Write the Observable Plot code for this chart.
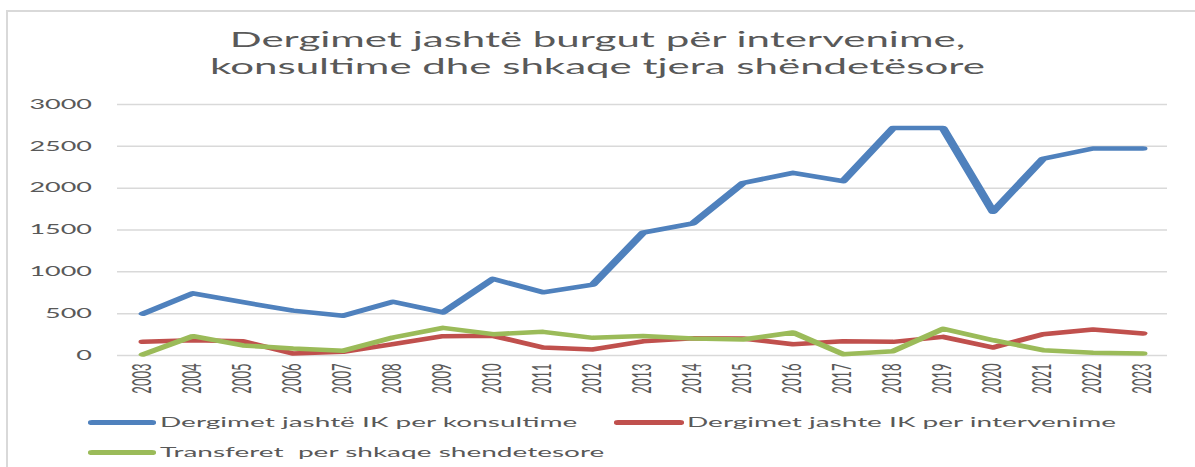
<!DOCTYPE html>
<html>
<head>
<meta charset="utf-8">
<script src="https://cdn.jsdelivr.net/npm/d3@7"></script>
<script src="https://cdn.jsdelivr.net/npm/@observablehq/plot@0.6"></script>
<style>
  html, body { margin: 0; padding: 0; background: #fff; }
  #frame { position: absolute; left: 6px; top: 10px; width: 1200px; height: 470px;
           border-left: 2px solid #d9d9d9; border-top: 2px solid #d9d9d9; box-sizing: border-box; }
  #stage { position: absolute; left: 0; top: 0; width: 597.5px; height: 467px;
           transform: scaleX(2); transform-origin: 0 0; font-family: Lato, "Open Sans", sans-serif; color: #595959; }
  #title { position: absolute; left: 0; top: 25px; width: 597.5px; text-align: center;
           font-size: 21px; line-height: 27px; }
  #chart { position: absolute; left: 0; top: 95px; }
  .leg { position: absolute; font-size: 14px; line-height: 20px; white-space: pre; }
  .leg .sw { display: inline-block; width: 34.5px; height: 4.5px; border-radius: 2px; vertical-align: middle; margin-right: 2px; position: relative; top: -1px; }
</style>
</head>
<body>
<div id="frame"></div>
<div id="stage">
  <div id="title">Dergimet jashtë burgut për intervenime,<br>konsultime dhe shkaqe tjera shëndetësore</div>
  <div id="chart"></div>
  <div id="legend"></div>
</div>
<script>
const years = ["2003","2004","2005","2006","2007","2008","2009","2010","2011","2012","2013","2014","2015","2016","2017","2018","2019","2020","2021","2022","2023"];
const konsultime = [500, 743, 637, 536, 476, 643, 516, 916, 755, 848, 1468, 1580, 2062, 2183, 2083, 2718, 2718, 1718, 2352, 2474, 2474];
const intervenime = [163, 183, 171, 24, 44, 135, 231, 235, 96, 72, 170, 207, 203, 135, 171, 163, 223, 96, 255, 311, 263];
const transferet = [12, 231, 120, 84, 56, 215, 331, 255, 283, 211, 233, 203, 191, 275, 16, 52, 319, 183, 64, 32, 24];
const seriesNames = ["Dergimet jashtë IK per konsultime", "Dergimet jashte IK per intervenime", "Transferet  per shkaqe shendetesore"];
const seriesColors = ["#4F81BD", "#C0504D", "#9BBB59"];
const yTicks = [0, 500, 1000, 1500, 2000, 2500, 3000];

const seriesValues = [konsultime, intervenime, transferet];
const data = seriesValues.flatMap((vals, s) => years.map((y, i) => ({year: y, value: vals[i], series: seriesNames[s]})));

const W = 597.5;
const chart = Plot.plot({
  width: W,
  height: 310,
  marginLeft: 58.5,
  marginRight: 14,
  marginTop: 9,
  marginBottom: 50,
  style: {fontFamily: "Lato, 'Open Sans', sans-serif", color: "#595959", background: "transparent", overflow: "visible"},
  x: {type: "point", domain: years, padding: 0.5, align: 0.5, label: null},
  y: {domain: [0, 3000], label: null},
  color: {domain: seriesNames, range: seriesColors},
  marks: [
    Plot.ruleY(yTicks, {stroke: "#d9d9d9", strokeWidth: 1.5}),
    Plot.axisY(yTicks, {tickSize: 0, tickPadding: 13, fontSize: 13.5, label: null, tickFormat: d => String(d)}),
    Plot.axisX({tickRotate: -90, tickSize: 0, tickPadding: 8, fontSize: 13, label: null}),
    Plot.lineY(data, {x: "year", y: "value", z: "series", stroke: "series", strokeWidth: 4.5, strokeLinecap: "round", strokeLinejoin: "round"})
  ]
});
document.getElementById("chart").appendChild(chart);

const legend = document.getElementById("legend");
const legPos = [[43.5, 412], [307, 412], [43.5, 442]];
seriesNames.forEach((name, i) => {
  const d = document.createElement("div");
  d.className = "leg";
  d.style.left = legPos[i][0] + "px";
  d.style.top = legPos[i][1] + "px";
  const sw = document.createElement("span");
  sw.className = "sw";
  sw.style.background = seriesColors[i];
  d.appendChild(sw);
  d.appendChild(document.createTextNode(name));
  legend.appendChild(d);
});
</script>
</body>
</html>
